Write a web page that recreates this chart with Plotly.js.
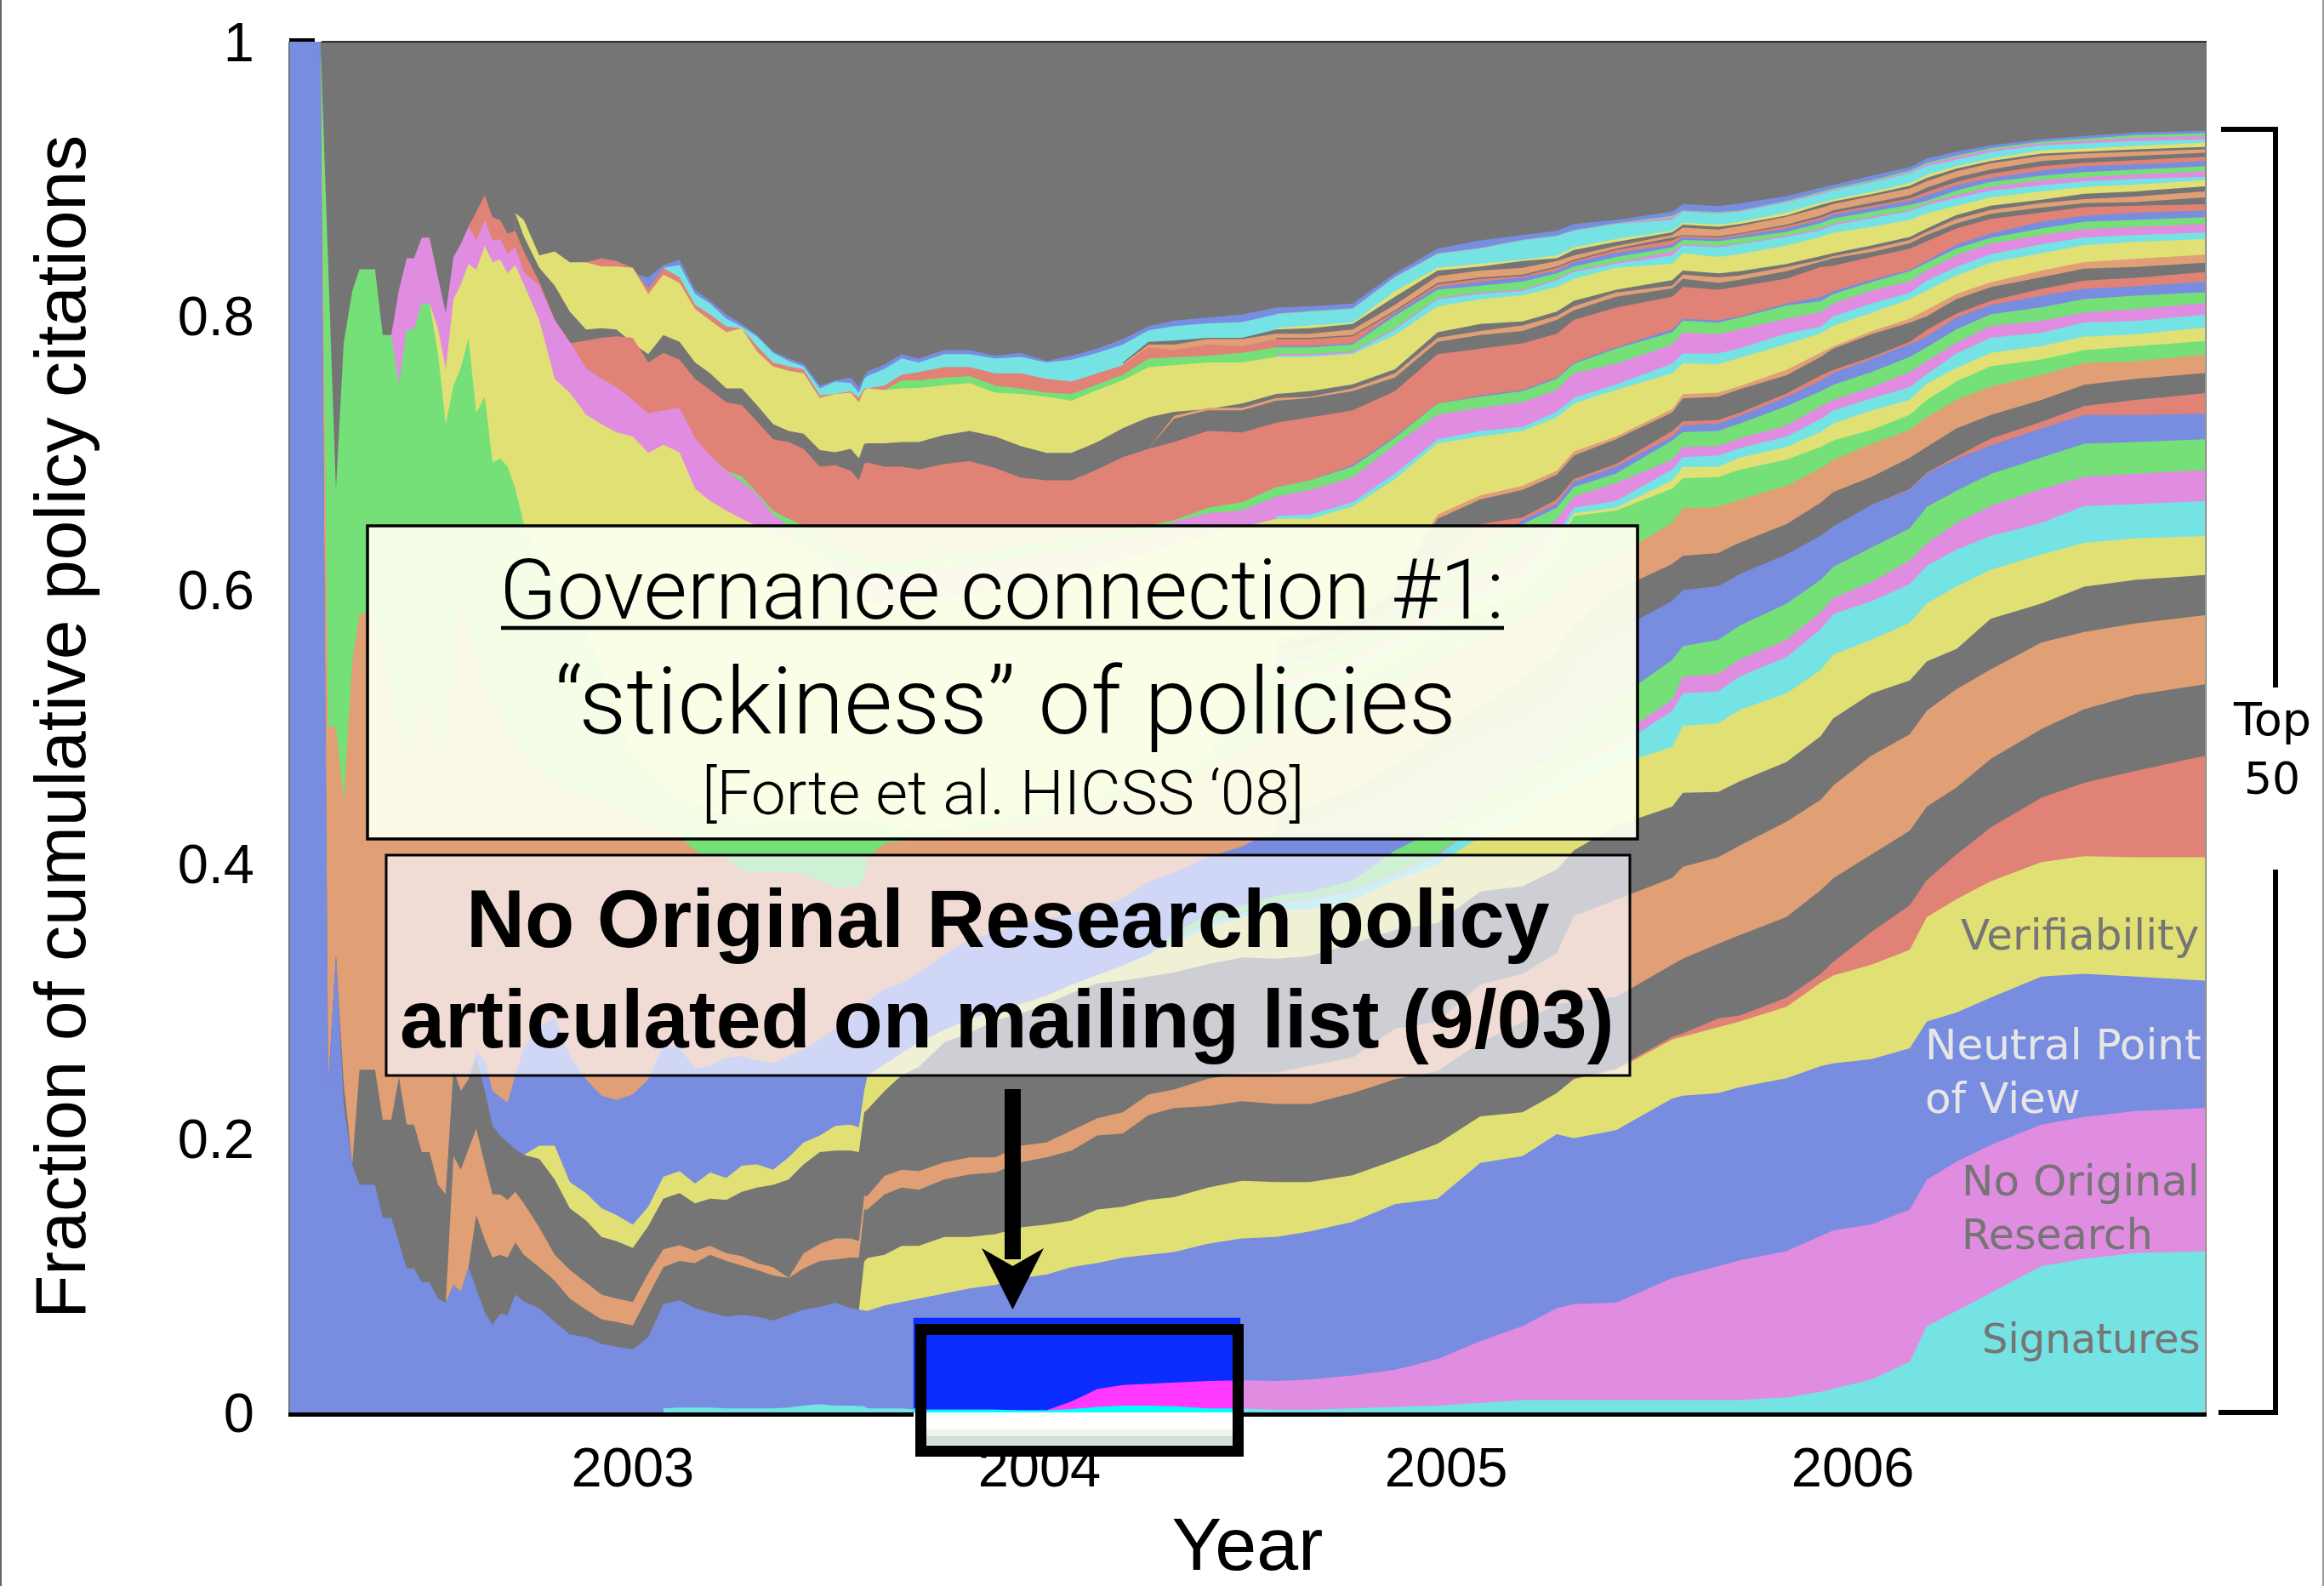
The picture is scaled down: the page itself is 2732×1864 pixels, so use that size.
<!DOCTYPE html>
<html><head><meta charset="utf-8">
<script src="https://cdn.plot.ly/plotly-3.0.1.min.js"></script>
<style>html,body{margin:0;padding:0;background:#fff}#c{width:2732px;height:1864px}</style></head>
<body><div id="c"></div>
<script>
// Shared time grid (year)
const xEarly=[2002.157,2002.232,2002.251,2002.270,2002.289,2002.310,2002.328,2002.347,2002.366,2002.385,2002.406,2002.425,2002.444,2002.462,2002.481,2002.500,2002.521,2002.540,2002.559,2002.577,2002.596,2002.615,2002.636,2002.655,2002.674,2002.692,2002.711,2002.732,2002.770,2002.808,2002.845,2002.885,2002.923,2002.960,2003.000,2003.038,2003.075,2003.115,2003.153,2003.190,2003.230,2003.268,2003.305,2003.345,2003.383,2003.420,2003.460,2003.498,2003.536,2003.556,2003.569];
const xMid=[2003.577,2003.619,2003.661,2003.703,2003.766,2003.828,2003.891,2003.954,2004.017,2004.079,2004.142,2004.205,2004.268,2004.331,2004.414,2004.498];
const xLate=[2004.582,2004.665,2004.770,2004.874,2004.979,2005.084,2005.188,2005.272,2005.314,2005.418,2005.556,2005.582,2005.669,2005.722,2005.837,2005.921,2005.952,2006.046,2006.140,2006.182,2006.255,2006.339,2006.464,2006.569,2006.695,2006.866];
const xAll=xEarly.concat(xMid,xLate);
const yearTicks=[2003,2004,2005,2006];
const fracTicks=[0,0.2,0.4,0.6,0.8,1];
const fracLabels=['0','0.2','0.4','0.6','0.8','1'];

// Cumulative share (per mille) at the top of each policy band, bottom to top
const b1=[3,3.5,3.5,3.5,3,3,3,3,3.5,5,6,5,5,4.5,4.5, 3,3,3,2,2,2,2,1.5,1.5,2.5,4,5,5,4.5,3,3, 2,2,3,4,5,7,9,9,9,9, 9,9, 9,9,11,15,17.4,24,37,63,74,87,106.7,112,116.3,117.6];
const b2=[1.5,8,17,20,21,22,23,23.5, 23,24,27,31,39,52,63,76,79,80, 98,100, 106.7,111,117.6,128.5,132.8,137.2,148,169.8,182.9,195,209.9,215.5,219.9,222];
const b3=[1000,1000,240,334,225,181,166,166,166,142,142,124,105,105,95,95,83,80,93,88,106,90,73,64,72,71,86,81,76,66,57,55,50,48,46,55,79,82,76,73,70,71,70,67,71,75,77,80,76,75,74, 74,78,80.5,83,87,90.5,93,98,100.5,106,109,113,115,117,123,127, 128,132,139,152,156,182,187,203,200,206, 229,231, 233,237.3,243.8,252.6,254.7,257.8,265.6,285.2,291.7,302.6,317.9,320,317.9,315];
const b4=[75,110, 112.6,115,121.5,121.5,128,128,130,135,137,140,148,150,155,157,164,169, 168,168,173,184,196,216,219,233,243,250, 272,274, 280.9,285.2,296,313.5,318.7,326.6,337.5,361.4,374.5,387.5,401.5,405.8,405,405];
const b5=[233,243.5,251, 274,276.5, 287.4,289.6,302.6,320,328.7,350.5,370,388.4,407,426.7,448.5,459.4,468,479];
const b6=[80,93,88,106,144,126,113,115,113,124,115,106,96,83,75,68,66,63.5,85,106,110.5,109,115,110.5,107,104,100,98,105,110.5,111.5,113,113,148, 148,159,164,162.5,170,173.6,175,182.5,186,191,202,203.5,217,222,223.5,227, 225,225,233,243,249,270,285,297.5,300,303, 326.6,331, 341.8,348.3,361.4,381,389.7,407,424.5,442,456,476.8,498.6,513,523.4,531.2];
const b7=[80,187,177,192,207,181,159,159,155,161,152.5,135,115,104,95,86,83,80.5,101.5,119,122,118,121.5,116,114,109,106,98,116,123,127,127,125,158, 158,172.5,177,176,182.5,186,186,194.6,197,205.7,214.6,219,232,235.6,243.4,247.8, 248,253,259,280,285,312,320,335,362,374, 390,398, 405,413.6,431,447,457.3,479.2,494.8,512,527.7,542,561.7,569.3,575.5,581.6];
const b8=[1000,240,334,240,181,250,250,250,213.5,213.5,244.5,210,210,190,190,166,159,250,234.5,243,259,234.5,209,202,197,192,188,185,170,149,140,128,125,120,136,156,160,152.5,156,155,161,164,166,170,181,190,191,191,190,219, 221,234.5,246,252,270,277,286,291,298,306,313,315,318,321,327,332, 331,333,342,352,357,380,384,396,410,428, 442,452, 452.6,460.4,474.5,493.3,506.4,524.5,534,547.9,557,579,590.2,602.4,607.4,611];
const b9=[188,194.6,194.6,168,160,149,144,137,150,172,176,167,175,171,180,181,177,186,197,202,209,210,208,234.5, 246,254,262,270,279,287,293,298,304,312,319,326,334,342,354,361, 367,367,374,388,400,420,435,450,460,472, 485.5,501, 502.6,512.6,524.5,541.7,552.7,563.6,576,590.2,602.5,614.7,625.8,634.4,637.6,639.3];
const b10=[326,334,345,357,364, 371,374,380,392,406,430,445,460,470,485, 512,524.5, 526,537,551,571.4,582.4,591.8,604.3,617.7,629.4,639.3,649,661.3,662.6,665];
const b11=[326,334,345.5,358,365, 372,375,381,393,407,431,446,462,472,492, 520,537, 538.6,549.5,563.6,584,594,605.8,621.5,634,649,661.4,673.6,682.7,684.7,687.6];
const b12=[326,334,350,363,370, 377,380,388,410,425,445,465,480,495,520, 549,559, 563.6,574,590,607.4,616.8,630.9,644.9,660.6,672.4,684.7,696.9,706.7,708,710];
const b13=[159,250,234.5,243,263,257,234.5,230,226,245.6,265.6,282,288,260,243,231,228,232,243,268,266,251,253,259,260,257,255,260,265,272,280,288,294,298, 300,309,313,321,334,345,350,356,360,364,368,375,387,394,405,413, 425,432,445,460,480,495,510,525,550,570, 592,600, 602.7,611.5,626,639.6,646.5,662,673,685,695.7,705.5,717.8,727.6,727.6,728.8];
const b14=[662,673.7,685.6,697.4,710.4,722.7,734.2,738.6,743.6];
const b15=[435,442,455,472,495,515,535,555,575,600, 619,625, 627,634.6,648,663.7,671.5,682.5,696.5,704.3,717.8,727.6,738.7,749.7,754,758.3];
const b16=[1000,500,500,446,547,583,583,583,560,530,500,480,500,520,500,490,490,540,590,570,550,530,520,510,500,490,480,470,460,455,450,445,440,435,430,425,420,410,405,405,395,394,394,394,393,388,383,383,383,390, 405,415,417,418,421,424,427,431,435,440,445,450,455,462,470,485, 500,505,515,530,550,565,580,595,610,625, 649,659.6, 660.6,665.9,676,688.7,695,706.5,716.8,726.2,738.7,748.5,757,765.7,766.9,771.8];
const b17=[520,525,535,550,570,585,600,630,654,658, 674,681.5, 682.4,687.8,695,704.3,709,716.8,727.8,738.7,752.2,763.2,768.1,775,777.9,781.6];
const b18=[525,530,540,555,575,590,605,635,656,660, 680,689.6, 690,696.5,704.3,715.3,721.5,730.9,738.7,750.6,762,773,777.9,784.8,786.5,791.4];
const b19=[530,535,545,560,580,595,610,640,660,665, 688,697, 698,703.4,712,724.7,731,739.7,748,757.5,772.5,784,787.7,795.1,796.3,800.7];
const b20=[535,540,550,570,590,610,630,652,668,678, 695,704.3, 705,710.6,720,734,738.7,748,759,766.9,780.4,792.6,796.3,802.5,804.9,809.3];
const b21=[1000,836,673,780,818,834,834,834,786,786,750,790,790,809,809,772,721,749,762,784,729,741,693,696,690,674,648,625,610,590,570,545,510,480,470,460,450,445,440,437,435,434,433,433,433,433,433,433,433,432, 432,430,428,424,426,430,433,437,441,446,451,456,461,468,478,525, 545,550,560,580,605,625,648,660,675,685, 709,715.3, 716,721.5,734,745,749.7,759,770,777.2,790.2,801.2,806.1,812.3,814.7,817.2];
const b22=[550,555,565,585,610,630,651,663,679,690, 712,720, 721.5,727,740.9,752.8,758.4,768.4,779.4,785,798.8,807.9,814.7,819.6,821.6,825];
const b23=[555,560,570,590,615,648,653,666,681,692, 716,723, 724,729.4,743.4,756.5,760.6,770,781,789.7,801.7,811,819.6,825.8,827.7,831.9];
const b24=[560,565,575,600,652,666,673,684,698,710, 729.5,739.7, 741,746.5,756.6,770,776,786.6,795,799.7,812.3,820.9,828.2,834.4,835.6,838.8];
const b25=[565,570,580,605,655,669,676,687,701,712, 732,742.8, 744,748.7,760.6,773,777.8,788.8,798,804.4,816,824.5,833.1,839.3,841.7,844.7];
const b26=[809,791,761,812,823,838,833.6,851,839,841,831,837,823,797,754,744,728,721,715,712,700,706,700.5,674,665,658,652,647,640,635,630,622,615,605,600,596, 590,590,590,592,594,597,600,603,607,612,617,622,627,632,640,646, 652,652,661,681,707,712,716,726,736,746, 758,765.3, 764.7,769.4,779.4,787.2,792.8,802.2,812.2,818.5,829.5,838.8,845.9,851.5,854,856];
const b27=[654,655,664,685,710,716,719,730,740,750, 765,772.5, 772.5,776.3,787.2,791.9,799.7,809,816.9,825.7,835.6,844.9,852.3,857.2,858.9,860.9];
const b28=[786,819,842,842,857,857,828,802,843,852.6,865,855,870,855,856,845.5,850,832,822,797,781,762,754,748,738.5,729,731,733,711,698,687,679,670,655,647,630,625,622,618,615,613, 612,612,612,614,617,619,621,624,627,630,634,638,642,650,656,658, 668,673,682,706,728,733,737,746,758,765, 779,787.8, 786.6,790.3,798,802.8,809,818.5,825.3,833.2,844.2,852.8,858.9,863.3,865,867];
const b29=[698,687,683,671,658,652,647,637,632,628,625,620, 620,620,620,622,625,627,629,632,635,638,641,644,647,651,660,664, 675,680,690,711,736,741,745,754,765,776, 788,796.6, 795,798.8,807.5,810.7,816,824.7,832.5,838.8,849.1,856.9,863.8,868.7,870,871.9];
const b30=[675,680,691,712,736,742,746,755,766,777, 790,798, 796.6,799.7,809,813.8,817.8,826.3,833.5,840.4,852,860.1,868.7,873.1,875.3,876.8];
const b31=[865,876,888,872,870,860,862,847,825,797,780,782,784,785,784,766,773,768,754,746,737,735,723,710,708,703,690,691,687,680,692, 693,690,690,688,692,694,689,682,680,680,688,697,703,708,716,715, 722,726,731,745,772,776,780,787,797,806, 814,821, 819,821.6,827.2,835.7,836.6,842.9,849,854.4,863.8,870.7,875.3,879.3,880.3,881.5];
const b32=[703,725,731,731, 738,740,745,755,781,786,789,797,804,814, 820,827, 824,826.3,832.5,839.4,842,846.6,852.9,859,867.5,874.4,879,882.2,883,886.4];
const b33=[703,727,733,733, 740,741,747,758,784,789,793,800,807,817, 822,830, 828,829.4,835.7,841,843.5,849,855.4,861.3,870.7,877.3,882.2,885.2,887.1,890.8];
const b34=[875,858,835,822,803,790,791,790,780,772,786,781,766,758,747,747,735,721,716,714,702,700.5,703,696,706.5, 707,707,708,708,713,716,712,705,700,700,708,718,726,730,732,736, 743,745,750,761,788,794,796,803,811,819, 826,833, 831,832.5,837.9,843.5,845.7,851.3,857.6,863.8,873.6,880.3,884.7,889.1,890.8,894.5];
const b35=[875,870,844,847,839,839,836,836,835,816,830,824,805,797,788,791,774,763,760,758,740,743,744,737,746, 747,746,747,747.4,749.4,751,744,743,741,738,746,753,762.5,764,766,766, 770,770,772,786,807,812,815,821,827,835, 838,845.7, 843,845,851.3,857.6,860.7,864.8,870,874.8,880.3,886.4,890.8,894,895.7,898.9];
const b36=[771,771,773,790,812,816,818,826,832,838, 844,851.3, 850,852.2,857.6,862.3,866,871,876.3,881,885.9,891.3,895.2,898.2,899.9,901.4];
const b37=[772,772,774,791,813,817,819,827,833,839, 847,852.2, 851,852.9,858.5,863.8,867.3,872.3,877.3,882.6,887.9,894.2,898.9,901.1,903.1,905.5];
const b38=[746,753,753,755,756,749,747,744,743,750,757,769,770,771,773, 777,777,779,800,819,822,825,831,836,843, 850,855.4, 854.4,856.6,861.3,867.6,871,876,881,884,891.5,897.7,902.3,904.8,906.8,909.2];
const b39=[778,778,780,802,821,825,828,833,839,846, 852,857.2, 856,858.5,863.8,870,874,878.8,884,887.9,895.2,900.6,906,909.2,910.4,912.9];
const b40=[839,842,840,835,820,835,828,808,801,792,791,778,766,763,761,742,743,745,740,747, 747,749,757,759,762.5,762.5,758,758,754,752,758,764,777,775,779,778, 783,783,785,803,823,827,829,835,840,848, 855,858.5, 857,859.7,865.4,871.6,875.4,880.4,885.7,890.4,897.7,903.8,909.2,911.7,913.4,916.1];
const b41=[784,784,786,804,824,828,830,836,841,849, 857,859, 858,860.4,866.6,873.2,877,882.6,887.9,893.5,901,906.8,912.9,914.9,916.6,919];
const b42=[765,779,779,783,783, 787,787,790,808,829,833,835,840,844,851, 859,864.4, 863,865.4,872.3,878.8,881.6,887.3,892.9,898.2,905.5,911.2,916.6,918.3,919.8,921.5];
const b43=[766,781,782,784,784, 790,791,794,814,833,836,840,842,848,854, 861,866.6, 865,867,873.2,881,883.5,888.8,895,900.7,907.5,912.9,918.3,919.8,921.5,923.2];
const b44=[791,793,795,818,835,838,841,844,850,856, 862,867.9, 866.6,868.5,875.4,882.6,884.8,890.4,896.6,902.9,909.2,914.6,920.7,922,924,926.4];
const b45=[835,837,816,809,798,792,785,773,767,763,747,752,751,744,754, 756,761.4,769,766,772,772,769,770,766,768,773,779,789.4,792.5,794.5,795.5, 801,803,805,828,845,849,855,858,862,867, 870,876, 874.4,876,882.9,888.8,891.3,897.3,904,909.2,914,919.5,924.4,925.9,927.6,928.8];
const b46=[801.3,803.3,805.3,828.3,845.3,849.3,855.3,858.3,862.3,867.3, 872,876.6, 875,876.6,883.5,889.8,892,898,905,910.7,916,921,925.9,927.6,930,931.3];
const b47=[801.6,803.6,805.6,828.6,845.6,849.6,855.6,858.6,862.6,867.6, 873,877, 875.7,877,884,890.4,892.9,899,906,911.7,917,922.2,927.1,929.3,931.8,933.3];
const b48=[831,828,837,841,819,811,801,794,786,774,769,765,749,753,755,748,756, 759.4,764.5,772,769,775,775,771,773,767,771,776,783,792.5,796.6,799,801, 806,807,809,831,849,855,859,862,867,870, 876,881.6, 880,882,887.3,893.5,895.7,902.3,908.5,914.8,919.8,924.4,928.8,931.3,933.7,935];
const bAll=[1000,1000];

// Highlighted window around the 9/03 post
const hlX=[2003.690,2003.703,2003.766,2003.828,2003.891,2003.954,2004.017,2004.079,2004.142,2004.205,2004.268,2004.331,2004.414,2004.494];
const hlBlue=[69,69,69,69,69,69,69,69,69,69,69,69,69,69];
const hlPink=[3,2,2,2,2,1.5,1.5,8,17,20,21,22,23,23.5];
const hlCyan=[3,2,2,2,2,1.5,1.5,2.5,4,5,5,4.5,3,3];

const COL={blue:'#788ce0',green:'#75e078',pink:'#e08ce0',cyan:'#75e3e3',yellow:'#e0e075',grey:'#757575',orange:'#e09f75',red:'#e08275'};
const layers=[
 [b1,'cyan','Signatures'],[b2,'pink','No Original Research'],[b3,'blue','Neutral Point of View'],[b4,'yellow','Verifiability'],
 [b5,'red','Policy 5'],[b6,'grey','Policy 6'],[b7,'orange','Policy 7'],[b8,'grey','Policy 8'],[b9,'yellow','Policy 9'],
 [b10,'cyan','Policy 10'],[b11,'pink','Policy 11'],[b12,'green','Policy 12'],[b13,'blue','Policy 13'],[b14,'red','Policy 14'],
 [b15,'grey','Policy 15'],[b16,'orange','Policy 16'],[b17,'green','Policy 17'],[b18,'yellow','Policy 18'],[b19,'cyan','Policy 19'],
 [b20,'pink','Policy 20'],[b21,'green','Policy 21'],[b22,'blue','Policy 22'],[b23,'red','Policy 23'],[b24,'grey','Policy 24'],
 [b25,'orange','Policy 25'],[b26,'yellow','Policy 26'],[b27,'cyan','Policy 27'],[b28,'pink','Policy 28'],[b29,'green','Policy 29'],
 [b30,'blue','Policy 30'],[b31,'red','Policy 31'],[b32,'grey','Policy 32'],[b33,'orange','Policy 33'],[b34,'grey','Policy 34'],
 [b35,'yellow','Policy 35'],[b36,'cyan','Policy 36'],[b37,'pink','Policy 37'],[b38,'green','Policy 38'],[b39,'blue','Policy 39'],
 [b40,'red','Policy 40'],[b41,'grey','Policy 41'],[b42,'orange','Policy 42'],[b43,'grey','Policy 43'],[b44,'yellow','Policy 44'],
 [b45,'cyan','Policy 45'],[b46,'pink','Policy 46'],[b47,'green','Policy 47'],[b48,'blue','Policy 48']];

function area(x,vals,color,name){return {x:x,y:vals.map(v=>v/1000),type:'scatter',mode:'lines',line:{width:0},fill:'tozeroy',fillcolor:color,name:name,hoverinfo:'skip',showlegend:false};}
const traces=[area([xAll[0],xAll[xAll.length-1]],bAll,COL.grey,'All other policies')];
layers.slice().reverse().forEach(l=>traces.push(area(xAll.slice(-l[0].length),l[0],COL[l[1]],l[2])));
traces.push(area(hlX,hlBlue,'#0a2cff','Neutral Point of View (highlight)'));
traces.push(area(hlX,hlPink,'#ff38ff','No Original Research (highlight)'));
traces.push(area(hlX,hlCyan,'#00ffff','Signatures (highlight)'));

// page-pixel helpers for annotation boxes
const L=339,R=2594,T=49,B=1660;
const px=v=>(v-L)/(R-L), py=v=>(B-v)/(B-T);
function rect(x0,y0,x1,y1,fill,lw,lc){return {type:'rect',xref:'paper',yref:'paper',x0:px(x0),x1:px(x1),y0:py(y1),y1:py(y0),fillcolor:fill,line:{width:lw||0,color:lc||'#000'},layer:'above'};}
function seg(x0,y0,x1,y1,w,c){return {type:'line',xref:'paper',yref:'paper',x0:px(x0),x1:px(x1),y0:py(y0),y1:py(y1),line:{width:w,color:c||'#000'},layer:'above'};}
function poly(pts,fill){return {type:'path',xref:'paper',yref:'paper',path:'M '+pts.map(p=>px(p[0])+' '+py(p[1])).join(' L ')+' Z',fillcolor:fill,line:{width:0},layer:'above'};}
function note(t,x,y,size,o){return Object.assign({xref:'paper',yref:'paper',x:px(x),y:py(y),text:t,showarrow:false,xanchor:'center',yanchor:'middle',font:{family:'Liberation Sans',size:size,color:'#000'}},o||{});}

const shapes=[
 rect(1074,1660,1458,1700,'#ffffff'),
 rect(1082,1688,1456,1698,'rgba(165,185,165,.45)'),
 rect(1082,1680,1456,1688,'rgba(190,205,190,.25)'),
 rect(1082.5,1562.5,1455.5,1705.5,'rgba(0,0,0,0)',13),
 rect(432,618,1925,986,'rgba(251,255,236,.95)',3.5),
 rect(454,1005,1916,1264,'rgba(246,248,255,.69)',3),
 seg(589,738,1768,738,4.5),
 seg(1190.5,1280,1190.5,1480,19),
 poly([[1154,1467],[1190.5,1488],[1227,1467],[1190.5,1539]],'#000'),
 {type:'path',xref:'paper',yref:'paper',path:'M '+px(2611)+' '+py(152)+' L '+px(2675)+' '+py(152)+' L '+px(2675)+' '+py(808),line:{width:6,color:'#000'},layer:'above'},
 {type:'path',xref:'paper',yref:'paper',path:'M '+px(2675)+' '+py(1022)+' L '+px(2675)+' '+py(1660)+' L '+px(2608)+' '+py(1660),line:{width:6,color:'#000'},layer:'above'},
 seg(378,49,2594,49,1.5),
 seg(340,47,370,47,4),
 seg(1,0,1,1864,2,'#666'),
 seg(2731,0,2731,1864,2,'#999')
];
const LAB='DejaVu Sans';
const annotations=[
 note('Governance connection #1:',1177,693,99,{font:{family:'Roboto',weight:300,size:99,color:'#000'}}),
 note('“stickiness” of policies',1182,824,110,{font:{family:'Roboto',weight:300,size:110,color:'#000'}}),
 note('[Forte et al. HICSS ‘08]',1179,932,73,{font:{family:'Roboto',weight:300,size:73,color:'#000'}}),
 note('<b>No Original Research policy</b>',1185,1080,95.5),
 note('<b>articulated on mailing list (9/03)</b>',1184,1198,95.5),
 note('Verifiability',2587,1099,50,{xanchor:'right',font:{family:LAB,size:50,color:'#757575'}}),
 note('Neutral Point',2261,1228,50,{xanchor:'left',font:{family:LAB,size:50,color:'#e6e6e6'}}),
 note('of View',2261,1291,50,{xanchor:'left',font:{family:LAB,size:50,color:'#e6e6e6'}}),
 note('No Original',2304,1388,50,{xanchor:'left',font:{family:LAB,size:50,color:'#757575'}}),
 note('Research',2304,1451,49,{xanchor:'left',font:{family:LAB,size:49,color:'#757575'}}),
 note('Signatures',2589,1573,48,{xanchor:'right',font:{family:LAB,size:48,color:'#757575'}}),
 note('Top',2671,845,54,{font:{family:LAB,size:54,color:'#000'}}),
 note('50',2671,915,52,{font:{family:LAB,size:52,color:'#000'}})
];
const layout={
 width:2732,height:1864,margin:{l:339,r:138,t:49,b:204},paper_bgcolor:'#fff',plot_bgcolor:'#757575',showlegend:false,
 font:{family:'Liberation Sans',color:'#000'},
 xaxis:{range:[2002.153,2006.870],tickvals:yearTicks,ticktext:yearTicks.map(String),ticks:'outside',ticklen:4,tickwidth:0,tickcolor:'rgba(0,0,0,0)',tickfont:{size:65},showgrid:false,zeroline:false,showline:true,linewidth:5,linecolor:'#000',title:{text:'Year',font:{size:88},standoff:43}},
 yaxis:{range:[0,1],tickvals:fracTicks,ticktext:fracLabels,ticks:'outside',ticklen:26,tickwidth:0,tickcolor:'rgba(0,0,0,0)',tickfont:{size:65},showgrid:false,zeroline:false,showline:false,title:{text:'Fraction of cumulative policy citations',font:{size:84},standoff:80}},
 shapes:shapes,annotations:annotations
};
Plotly.newPlot('c',traces,layout,{displayModeBar:false,staticPlot:true});
</script></body></html>
